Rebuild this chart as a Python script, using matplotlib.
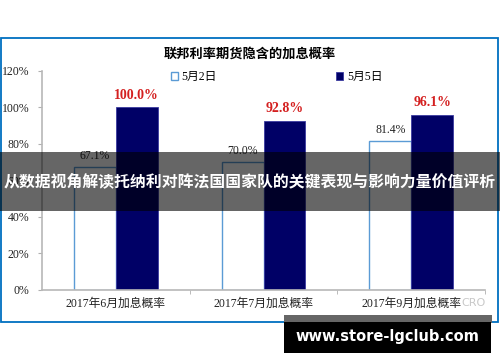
import matplotlib
matplotlib.use("Agg")
import matplotlib.pyplot as plt
import numpy as np
from matplotlib.patches import Rectangle

plt.rcParams['font.family'] = ['Liberation Serif', 'Noto Sans CJK SC', 'DejaVu Sans']

categories = ['2017年6月加息概率', '2017年7月加息概率', '2017年9月加息概率']
may2 = [67.1, 70.0, 81.4]
may5 = [100.0, 92.8, 96.1]
series_names = ['5月2日', '5月5日']
yticks = [0, 20, 40, 60, 80, 100, 120]

fig = plt.figure(figsize=(5, 3.62), dpi=100)
ax = fig.add_axes([0.084, 0.199, 0.886, 0.605])

x = np.arange(len(categories))
width = 0.284
b1 = ax.bar(x - width/2, may2, width, color='white', edgecolor='#5b9bd5', linewidth=1.0, label=series_names[0])
b2 = ax.bar(x + width/2, may5, width, color='#000066', edgecolor='#3a3aa0', linewidth=0.6, label=series_names[1])

for r, v in zip(b1, may2):
    ax.annotate('%.1f%%' % v, (r.get_x() + r.get_width()/2, v), xytext=(0, 4),
                textcoords='offset points', ha='center', va='bottom', fontsize=8.5, color='#222222')
for r, v in zip(b2, may5):
    ax.annotate('%.1f%%' % v, (r.get_x() + r.get_width()/2, v), xytext=(0, 4),
                textcoords='offset points', ha='center', va='bottom', fontsize=10,
                color='#d42020', fontweight='bold')

ax.set_xlim(-0.5, 2.5)
ax.set_ylim(0, 120)
ax.set_yticks(yticks)
ax.set_yticklabels(['%d%%' % t for t in yticks], fontsize=8.5, color='#222222')
ax.set_xticks(x)
ax.set_xticklabels(categories, fontsize=8.5, color='#222222')
ax.set_xticks([0.5, 1.5, 2.5], minor=True)
ax.tick_params(axis='x', which='major', length=0, pad=6)
ax.tick_params(axis='x', which='minor', length=3, color='#b0b0b0')
ax.tick_params(axis='y', length=3, color='#b0b0b0', pad=6)
for s in ['top', 'right']:
    ax.spines[s].set_visible(False)
ax.spines['left'].set_color('#b8b8b8')
ax.spines['left'].set_linewidth(1.2)
ax.spines['bottom'].set_color('#b8b8b8')
ax.spines['bottom'].set_linewidth(1.2)

fig.text(0.5, 1 - 54/362, '联邦利率期货隐含的加息概率', ha='center', va='center',
         fontsize=9.5, fontweight='bold', family=['Noto Sans CJK SC'])

leg = fig.legend(handles=[b1, b2], loc='center left', bbox_to_anchor=(0.342, 1 - 77/362),
                 ncol=2, frameon=False, fontsize=8.5, handlelength=0.6, handleheight=0.6,
                 handletextpad=0.3, columnspacing=10.1, borderaxespad=0, borderpad=0)

# faint source watermark
fig.text(0.946, 1 - 303/362, 'CRO', ha='center', va='center', fontsize=8,
         color='#c8c8c8', family=['DejaVu Sans'])

# blue frame
fig.add_artist(Rectangle((1/500, 40/362), 497/500, 284/362, transform=fig.transFigure,
                         fill=False, edgecolor='#0070c0', linewidth=1.3))

# overlay banner
fig.add_artist(Rectangle((0, 1 - 211/362), 1, 59/362, transform=fig.transFigure,
                         facecolor='black', alpha=0.6, edgecolor='none'))
fig.text(0.5, 1 - 182/362, '从数据视角解读托纳利对阵法国国家队的关键表现与影响力量价值评析',
         ha='center', va='center', fontsize=11.4, color='white', fontweight='bold',
         family=['Noto Sans CJK SC'])

# site box
fig.add_artist(Rectangle((284/500, 1 - 323/362), 208/500, 8/362, transform=fig.transFigure,
                         facecolor='#666666', edgecolor='none'))
fig.add_artist(Rectangle((284/500, 1 - 353/362), 207/500, 31/362, transform=fig.transFigure,
                         facecolor='black', edgecolor='none'))
fig.text(387/500, 1 - 337/362, 'www.store-lgclub.com', ha='center', va='center',
         fontsize=10.5, color='white', fontweight='bold', family=['DejaVu Sans'])

fig.savefig('out.png', dpi=100)
